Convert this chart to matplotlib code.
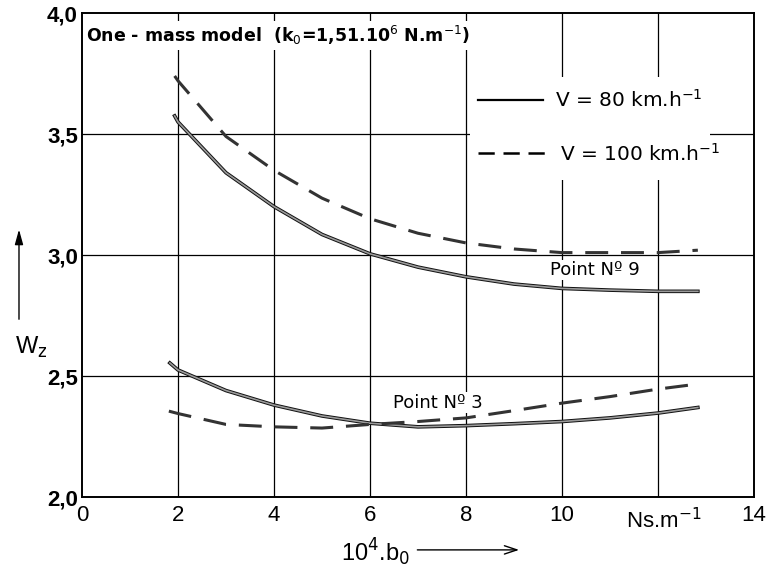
import numpy as np
import matplotlib
matplotlib.use("Agg")
import matplotlib.pyplot as plt
from matplotlib.patches import Rectangle, FancyArrowPatch
import matplotlib.patheffects as pe

plt.rcParams['font.family'] = ['Liberation Sans', 'DejaVu Sans']

# point 9, V = 80 km/h (solid) and V = 100 km/h (dashed)
x9_80 = [1.93, 2, 3, 4, 5, 6, 7, 8, 9, 10, 11, 12, 12.83]
y9_80 = [3.575, 3.55, 3.34, 3.20, 3.085, 3.005, 2.95, 2.91, 2.88, 2.862, 2.855, 2.85, 2.85]
x9_100 = [1.93, 2, 3, 4, 5, 6, 7, 8, 9, 10, 11, 12, 12.83]
y9_100 = [3.74, 3.72, 3.49, 3.35, 3.235, 3.15, 3.09, 3.05, 3.025, 3.01, 3.01, 3.01, 3.02]

# point 3
x3_80 = [1.83, 2, 3, 4, 5, 6, 7, 8, 9, 10, 11, 12, 12.83]
y3_80 = [2.554, 2.525, 2.44, 2.38, 2.335, 2.305, 2.29, 2.295, 2.303, 2.312, 2.327, 2.347, 2.37]
x3_100 = [1.81, 2, 3, 4, 5, 6, 7, 8, 9, 10, 11, 12, 12.83]
y3_100 = [2.355, 2.345, 2.30, 2.29, 2.285, 2.30, 2.312, 2.327, 2.357, 2.388, 2.415, 2.446, 2.467]

xticks = [0, 2, 4, 6, 8, 10, 14]
xticklabels = ['0', '2', '4', '6', '8', '10', '14']
yticks = [2.0, 2.5, 3.0, 3.5, 4.0]
yticklabels = ['2,0', '2,5', '3,0', '3,5', '4,0']

fig = plt.figure(figsize=(7.72, 5.74), dpi=100)
ax = fig.add_axes([0.1062, 0.1341, 0.8705, 0.8432])
ax.set_xlim(0, 14)
ax.set_ylim(2.0, 4.0)

for g in [2, 4, 6, 8, 10, 12]:
    ax.axvline(g, color='black', lw=0.9, zorder=1)
for g in [2.5, 3.0, 3.5]:
    ax.axhline(g, color='black', lw=0.9, zorder=1)

# white area behind the legend
ax.add_patch(Rectangle((8.08, 3.31), 5.0, 0.425, facecolor='white', edgecolor='none', zorder=2))

fx = [pe.Stroke(linewidth=2.6, foreground='#111111'), pe.Normal()]
lc = '#9a9a9a'
ax.plot(x9_80, y9_80, color=lc, lw=1.2, zorder=4, path_effects=fx)
ax.plot(x3_80, y3_80, color=lc, lw=1.2, zorder=4, path_effects=fx)
l1, = ax.plot(x9_100, y9_100, color='#333333', lw=2.2, zorder=4)
l2, = ax.plot(x3_100, y3_100, color='#333333', lw=2.2, zorder=4)
for l in (l1, l2):
    l.set_dashes((7.5, 4.2))

# legend
ax.plot([8.25, 9.6], [3.64, 3.64], color='black', lw=1.6, zorder=5)
ax.text(9.85, 3.64, 'V = 80 km.h$^{-1}$', fontsize=14.5, va='center', ha='left', zorder=5,
        fontfamily='DejaVu Sans')
ld, = ax.plot([8.25, 9.75], [3.42, 3.42], color='black', lw=1.8, zorder=5)
ld.set_dashes((6.5, 3.5))
ax.text(9.96, 3.42, 'V = 100 km.h$^{-1}$', fontsize=14.5, va='center', ha='left', zorder=5,
        fontfamily='DejaVu Sans')

# title box
ax.text(0.08, 3.955, 'One - mass model  (k$_0$=1,51.10$^6$ N.m$^{-1}$)', fontsize=12.5,
        fontweight='bold', va='top', ha='left', zorder=5, fontfamily='DejaVu Sans',
        bbox=dict(facecolor='white', edgecolor='none', pad=2))

ax.text(9.75, 2.938, 'Point Nº 9', fontsize=13, va='center', ha='left', zorder=5,
        fontfamily='DejaVu Sans', bbox=dict(facecolor='white', edgecolor='none', pad=1))
ax.text(6.48, 2.39, 'Point Nº 3', fontsize=13, va='center', ha='left', zorder=3,
        fontfamily='DejaVu Sans', bbox=dict(facecolor='white', edgecolor='none', pad=1))

ax.set_xticks(xticks)
ax.set_xticklabels(xticklabels, fontsize=16)
ax.set_yticks(yticks)
ax.set_yticklabels(yticklabels, fontsize=16, fontweight='bold')
ax.tick_params(length=0)
ax.tick_params(axis='x', pad=6)
ax.tick_params(axis='y', pad=3)
for s in ax.spines.values():
    s.set_linewidth(1.4)

ax.text(12.12, 1.955, 'Ns.m$^{-1}$', fontsize=16, ha='center', va='top')

# axis titles with arrows
fig.text(0.531, 0.037, '10$^{4}$.b$_0$', fontsize=17, ha='right', va='center')
fig.add_artist(FancyArrowPatch((0.537, 0.042), (0.676, 0.042), transform=fig.transFigure,
                               arrowstyle='->,head_length=9,head_width=3', lw=1.0, color='black'))
fig.add_artist(FancyArrowPatch((0.0246, 0.439), (0.0246, 0.605), transform=fig.transFigure,
                               arrowstyle='-|>,head_length=9,head_width=2.5', lw=1.0, color='black'))
fig.text(0.040, 0.395, 'W$_\\mathrm{z}$', fontsize=17, ha='center', va='center')

fig.savefig('out.png', dpi=100)
